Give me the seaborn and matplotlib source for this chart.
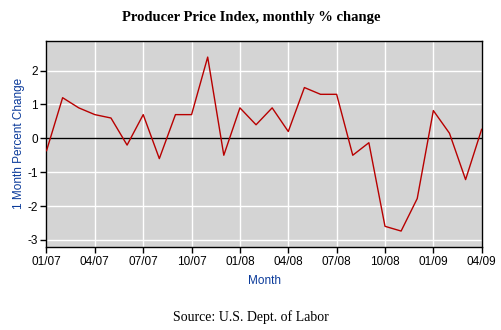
import matplotlib
matplotlib.use("Agg")
import matplotlib.pyplot as plt
import seaborn as sns
import pandas as pd

months = ["01/07", "02/07", "03/07", "04/07", "05/07", "06/07", "07/07", "08/07",
          "09/07", "10/07", "11/07", "12/07", "01/08", "02/08", "03/08", "04/08",
          "05/08", "06/08", "07/08", "08/08", "09/08", "10/08", "11/08", "12/08",
          "01/09", "02/09", "03/09", "04/09"]
values = [-0.37, 1.2, 0.9, 0.7, 0.6, -0.2, 0.7, -0.6,
          0.7, 0.7, 2.4, -0.5, 0.9, 0.4, 0.9, 0.2,
          1.5, 1.3, 1.3, -0.5, -0.13, -2.6, -2.74, -1.78,
          0.82, 0.15, -1.22, 0.27]
tick_labels = ["01/07", "04/07", "07/07", "10/07", "01/08", "04/08", "07/08", "10/08", "01/09", "04/09"]
y_ticks = [-3, -2, -1, 0, 1, 2]

df = pd.DataFrame({"idx": range(len(months)), "month": months, "value": values})

sns.set_style("white")
plt.rcParams['font.family'] = ['Liberation Sans', 'DejaVu Sans']
plt.rcParams['text.color'] = 'black'
plt.rcParams['xtick.color'] = 'black'
plt.rcParams['ytick.color'] = 'black'
plt.rcParams['axes.labelcolor'] = 'black'

fig = plt.figure(figsize=(5.02, 3.30), dpi=100)
ax = fig.add_axes([46.5/502, 1-247.3/330, (481.7-46.5)/502, (247.3-40.5)/330])
ax.set_facecolor("#d4d4d4")

sns.lineplot(data=df, x="idx", y="value", ax=ax, color="#b80000", linewidth=1.0, zorder=3)

ax.set_xlim(0, len(months)-1)
ax.set_ylim(-3.22, 2.89)
tick_pos = [months.index(t) for t in tick_labels]
ax.set_xticks(tick_pos)
ax.set_xticklabels(tick_labels, fontsize=8.5, color="black")
ax.set_yticks(y_ticks)
ax.set_yticklabels([str(v) for v in y_ticks], fontsize=8.5, color="black")
ax.tick_params(axis="both", direction="out", length=4, width=1, color="black", pad=2, bottom=True, left=True)
ax.grid(True, color="white", linewidth=1.0, zorder=1)
ax.set_axisbelow(True)
ax.axhline(0, color="black", linewidth=1.0, zorder=2)
for s in ax.spines.values():
    s.set_color("black")
    s.set_linewidth(1.0)

ax.set_xlabel("Month", color="#0a3a9a", fontsize=8.5, labelpad=5)
ax.set_ylabel("1 Month Percent Change", color="#0a3a9a", fontsize=8.5, labelpad=2)

fig.text(0.5, 1-17/330, "Producer Price Index, monthly % change", ha="center", va="center",
         fontsize=10.5, fontweight="bold", family="Liberation Serif", color="black")
fig.text(0.5, 1-317/330, "Source: U.S. Dept. of Labor", ha="center", va="center",
         fontsize=10, family="Liberation Serif", color="black")

fig.savefig("out.png", dpi=100)
